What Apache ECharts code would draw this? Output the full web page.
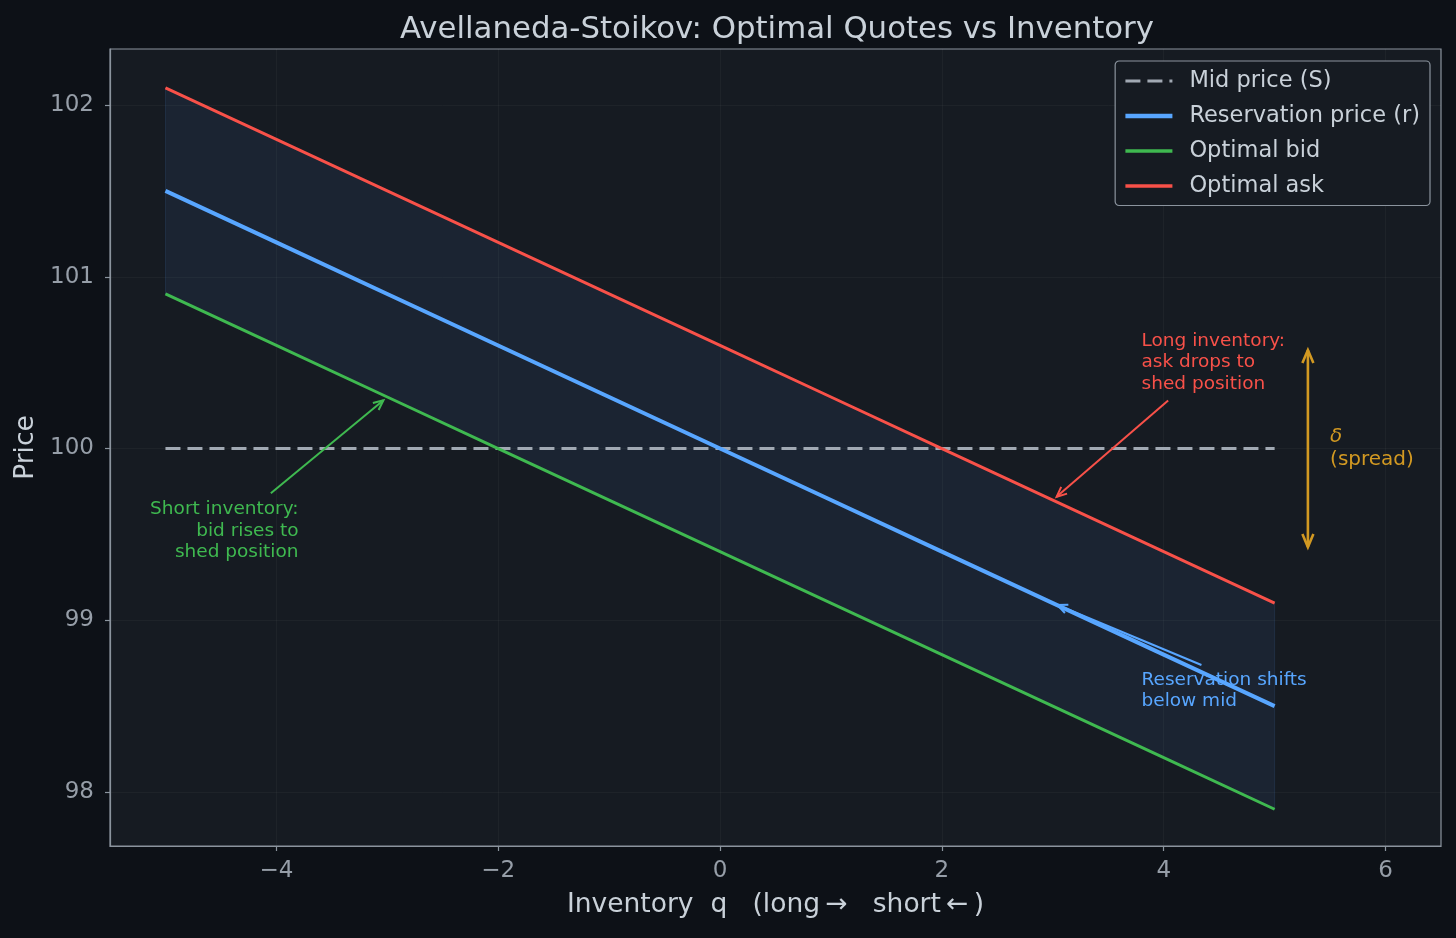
<!DOCTYPE html>
<html>
<head>
<meta charset="utf-8">
<script src="https://cdn.jsdelivr.net/npm/echarts@6/dist/echarts.min.js"></script>
<style>
html,body{margin:0;padding:0;background:#0d1117;}
#chart{width:1456px;height:938px;}
</style>
</head>
<body>
<div id="chart"></div>
<script>
// ---- data ----
const inventory = [-5, -4, -3, -2, -1, 0, 1, 2, 3, 4, 5];
const midPrice = [100, 100, 100, 100, 100, 100, 100, 100, 100, 100, 100];
const reservation = [101.5, 101.2, 100.9, 100.6, 100.3, 100.0, 99.7, 99.4, 99.1, 98.8, 98.5];
const optimalBid = [100.9, 100.6, 100.3, 100.0, 99.7, 99.4, 99.1, 98.8, 98.5, 98.2, 97.9];
const optimalAsk = [102.1, 101.8, 101.5, 101.2, 100.9, 100.6, 100.3, 100.0, 99.7, 99.4, 99.1];
const xTicks = [-4, -2, 0, 2, 4, 6];
const yTicks = [98, 99, 100, 101, 102];

// annotations (data coordinates)
const annLong = { text: 'Long inventory:\nask drops to\nshed position', at: [3.8, 100.5], align: 'left', from: [4.04, 100.28], to: [3.0, 99.7] };
const annShort = { text: 'Short inventory:\nbid rises to\nshed position', at: [-3.8, 99.52], align: 'right', from: [-4.05, 99.74], to: [-3.0, 100.3] };
const annRes = { text: 'Reservation shifts\nbelow mid', at: [3.8, 98.59], align: 'left', from: [4.34, 98.74], to: [3.0, 99.1] };
const spreadArrow = { x: 5.3, top: 100.6, bottom: 99.4, textAt: [5.5, 100.0] };

const C = {
  bg: '#0d1117', plot: '#161b22', axis: '#8b949e', tick: '#969ea8', text: '#c9d1d9',
  mid: '#a1a9b3', blue: '#58a6ff', green: '#3fb950', red: '#f85149', gold: '#d29922'
};
const FONT = 'DejaVu Sans';
const fmt = v => (v < 0 ? '\u2212' + Math.abs(v) : String(v));
const pairs = (xs, ys) => xs.map((x, i) => [x, ys[i]]);

const chart = echarts.init(document.getElementById('chart'), null, { renderer: 'canvas' });

const option = {
  backgroundColor: C.bg,
  animation: false,
  textStyle: { fontFamily: FONT },
  title: {
    text: 'Avellaneda-Stoikov: Optimal Quotes vs Inventory',
    left: 772, top: 9, textAlign: 'center',
    textStyle: { color: C.text, fontSize: 30.8, fontWeight: 'normal', fontFamily: FONT }
  },
  grid: {
    left: 110, top: 49, right: 15, bottom: 92, containLabel: false,
    show: true, backgroundColor: C.plot, borderColor: C.axis, borderWidth: 1.2
  },
  legend: {
    orient: 'vertical', right: 26, top: 61,
    data: [
      { name: 'Mid price (S)', lineStyle: { width: 3, type: [15, 7], color: C.mid } },
      { name: 'Reservation price (r)', lineStyle: { width: 4.5, color: C.blue } },
      { name: 'Optimal bid', lineStyle: { width: 3.5, color: C.green } },
      { name: 'Optimal ask', lineStyle: { width: 3.5, color: C.red } }
    ],
    backgroundColor: C.plot, borderColor: C.axis, borderWidth: 1.2, borderRadius: 4,
    padding: [8.5, 10, 8, 8], itemWidth: 47, itemHeight: 14, itemGap: 12,
    itemStyle: { opacity: 0 },
    textStyle: { color: C.text, fontSize: 22.5, fontFamily: FONT, padding: [0, 0, 0, 12] }
  },
  xAxis: {
    type: 'value', min: -5.5, max: 6.5,
    name: 'Inventory  q   (long\u2009\u2192   short\u2009\u2190\u2009)', nameLocation: 'middle', nameGap: 46,
    nameTextStyle: { color: C.text, fontSize: 26.5, fontFamily: FONT },
    axisLine: { show: true, onZero: false, lineStyle: { color: C.axis, width: 1.2 } },
    axisTick: { show: true, length: 5, customValues: xTicks, lineStyle: { color: C.axis, width: 1.2 } },
    axisLabel: { customValues: xTicks, color: C.tick, fontSize: 23, margin: 14, formatter: fmt },
    splitLine: { show: true, lineStyle: { color: 'rgba(255,255,255,0.035)', width: 1 } }
  },
  yAxis: {
    type: 'value', min: 97.686, max: 102.326,
    name: 'Price', nameLocation: 'middle', nameGap: 65, nameRotate: 90,
    nameTextStyle: { color: C.text, fontSize: 26.5, fontFamily: FONT },
    axisLine: { show: true, onZero: false, lineStyle: { color: C.axis, width: 1.2 } },
    axisTick: { show: true, length: 5, customValues: yTicks, lineStyle: { color: C.axis, width: 1.2 } },
    axisLabel: { customValues: yTicks, color: C.tick, fontSize: 23, margin: 16, formatter: fmt },
    splitLine: { show: true, lineStyle: { color: 'rgba(255,255,255,0.035)', width: 1 } }
  },
  series: [
    {
      type: 'custom', name: 'band', silent: true, z: 1, clip: true,
      data: [[inventory[0], optimalBid[0]]],
      renderItem: function (params, api) {
        const pts = [];
        for (let i = 0; i < inventory.length; i++) pts.push(api.coord([inventory[i], optimalAsk[i]]));
        for (let i = inventory.length - 1; i >= 0; i--) pts.push(api.coord([inventory[i], optimalBid[i]]));
        return { type: 'polygon', shape: { points: pts }, style: { fill: 'rgba(88,166,255,0.075)', stroke: 'rgba(88,166,255,0.12)', lineWidth: 1 } };
      }
    },
    {
      type: 'line', name: 'Mid price (S)', data: pairs(inventory, midPrice), symbol: 'none', z: 3,
      lineStyle: { color: C.mid, width: 3, type: [15, 7] }, itemStyle: { color: C.mid }
    },
    {
      type: 'line', name: 'Reservation price (r)', data: pairs(inventory, reservation), symbol: 'none', z: 5,
      lineStyle: { color: C.blue, width: 4 }, itemStyle: { color: C.blue }
    },
    {
      type: 'line', name: 'Optimal bid', data: pairs(inventory, optimalBid), symbol: 'none', z: 4,
      lineStyle: { color: C.green, width: 3 }, itemStyle: { color: C.green }
    },
    {
      type: 'line', name: 'Optimal ask', data: pairs(inventory, optimalAsk), symbol: 'none', z: 4,
      lineStyle: { color: C.red, width: 3 }, itemStyle: { color: C.red }
    }
  ]
};
chart.setOption(option);

// ---- annotations via the chart's own scales ----
const px = v => chart.convertToPixel({ gridIndex: 0 }, v);
function shrink(tip, from, s) {
  const dx = tip[0] - from[0], dy = tip[1] - from[1];
  const d = Math.hypot(dx, dy) || 1;
  return [tip[0] - dx / d * s, tip[1] - dy / d * s];
}
function arrowHead(tip, from, color, len, half, lw) {
  const dx = tip[0] - from[0], dy = tip[1] - from[1];
  const d = Math.hypot(dx, dy) || 1;
  const ux = dx / d, uy = dy / d;
  const bx = tip[0] - ux * len, by = tip[1] - uy * len;
  return {
    type: 'polyline', z: 20,
    shape: { points: [[bx - uy * half, by + ux * half], tip, [bx + uy * half, by - ux * half]] },
    style: { stroke: color, lineWidth: lw, fill: null }
  };
}
function annotation(a, color) {
  const p = px(a.at), f = px(a.from), t0 = px(a.to);
  const t = shrink(t0, f, 5);
  return [
    { type: 'text', z: 20, x: p[0], y: p[1],
      style: { text: a.text, fill: color, font: '18.5px "DejaVu Sans"', align: a.align, verticalAlign: 'middle', lineHeight: 21.5 } },
    { type: 'line', z: 20, shape: { x1: f[0], y1: f[1], x2: t[0], y2: t[1] }, style: { stroke: color, lineWidth: 2 } },
    arrowHead(t, f, color, 10, 4.5, 2)
  ];
}
const sTop0 = px([spreadArrow.x, spreadArrow.top]);
const sBot0 = px([spreadArrow.x, spreadArrow.bottom]);
const sTop = shrink(sTop0, sBot0, 4.5);
const sBot = shrink(sBot0, sTop0, 4.5);
const sTxt = px(spreadArrow.textAt);
const graphics = [].concat(
  annotation(annLong, C.red),
  annotation(annShort, C.green),
  annotation(annRes, C.blue),
  [
    { type: 'line', z: 20, shape: { x1: sTop[0], y1: sTop[1], x2: sBot[0], y2: sBot[1] }, style: { stroke: C.gold, lineWidth: 2.6 } },
    arrowHead(sTop, sBot, C.gold, 13, 5.5, 2.6),
    arrowHead(sBot, sTop, C.gold, 13, 5.5, 2.6),
    { type: 'text', z: 20, x: sTxt[0], y: sTxt[1],
      style: { text: '{i|\u03b4}\n(spread)', fill: C.gold, font: '20px "DejaVu Sans"', align: 'left', verticalAlign: 'middle', lineHeight: 23,
        rich: { i: { fontStyle: 'italic', fontSize: 20, fill: C.gold, fontFamily: 'DejaVu Sans', lineHeight: 23 } } } }
  ]
);
chart.setOption({ graphic: graphics });
</script>
</body>
</html>
